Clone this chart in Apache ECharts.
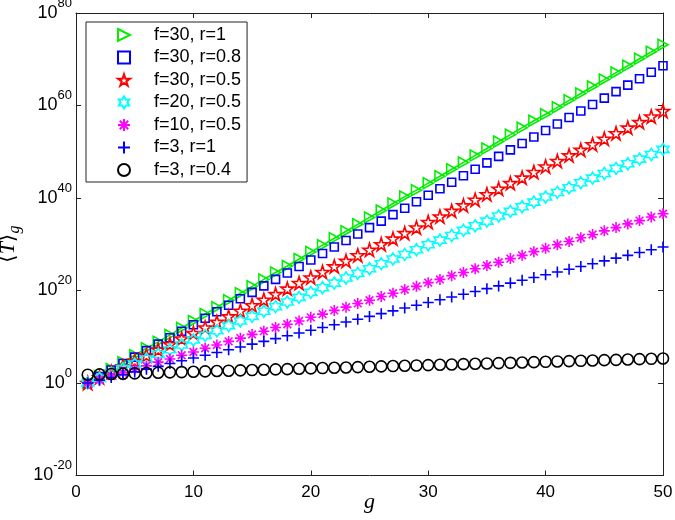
<!DOCTYPE html>
<html><head><meta charset="utf-8">
<script src="https://cdn.jsdelivr.net/npm/echarts@6/dist/echarts.min.js"></script>
<style>html,body{margin:0;padding:0;background:#fff}#c{width:675px;height:520px}</style>
</head><body><div id="c"></div>
<script>
// generation index g
const gens = [1,2,3,4,5,6,7,8,9,10,11,12,13,14,15,16,17,18,19,20,21,22,23,24,25,26,27,28,29,30,31,32,33,34,35,36,37,38,39,40,41,42,43,44,45,46,47,48,49,50];

// <T>_g values (log scale)
const f30r1 = [1e0,3.2e1,1e3,3.2e4,1e6,3.2e7,7.9e8,2.5e10,7.9e11,2.5e13,7.9e14,2.5e16,7.9e17,2.5e19,7.9e20,2.5e22,7.9e23,2e25,6.3e26,2e28,6.3e29,2e31,6.3e32,2e34,6.3e35,2e37,6.3e38,2e40,5e41,1.6e43,5e44,1.6e46,5e47,1.6e49,5e50,1.6e52,5e53,1.6e55,5e56,1.3e58,4e59,1.3e61,4e62,1.3e64,4e65,1.3e67,4e68,1.3e70,4e71,1.3e73];
const f30r08 = [1e0,2.5e1,6.3e2,1.6e4,4e5,1e7,2.5e8,6.3e9,1.6e11,4e12,1e14,2.5e15,6.3e16,1.6e18,4e19,1e21,2.5e22,6.3e23,1.6e25,4e26,1e28,2.5e29,6.3e30,1.6e32,4e33,1e35,2.5e36,6.3e37,1.6e39,4e40,1e42,2.5e43,6.3e44,1.6e46,4e47,1e49,2.5e50,6.3e51,1.6e53,4e54,1e56,2.5e57,6.3e58,1.6e60,4e61,1e63,2.5e64,6.3e65,1.6e67,4e68];
const f30r05 = [1e0,1.6e1,2.5e2,4e3,6.3e4,1e6,1.6e7,2.5e8,4e9,6.3e10,1e12,1.6e13,2.5e14,4e15,6.3e16,1e18,1.6e19,2.5e20,4e21,6.3e22,1e24,1.6e25,2.5e26,4e27,6.3e28,1e30,1.6e31,2.5e32,4e33,6.3e34,1e36,1.6e37,2.5e38,4e39,6.3e40,1e42,1.6e43,2.5e44,4e45,6.3e46,1e48,1.6e49,2.5e50,4e51,6.3e52,1e54,1.6e55,2.5e56,4e57,6.3e58];
const f20r05 = [1e0,1e1,1.3e2,1.3e3,1.3e4,1.6e5,1.6e6,1.6e7,1.6e8,2e9,2e10,2e11,2.5e12,2.5e13,2.5e14,3.2e15,3.2e16,3.2e17,3.2e18,4e19,4e20,4e21,5e22,5e23,5e24,6.3e25,6.3e26,6.3e27,6.3e28,7.9e29,7.9e30,7.9e31,1e33,1e34,1e35,1.3e36,1.3e37,1.3e38,1.3e39,1.6e40,1.6e41,1.6e42,2e43,2e44,2e45,2.5e46,2.5e47,2.5e48,2.5e49,3.2e50];
const f10r05 = [1e0,5e0,3.2e1,1.6e2,1e3,5e3,3.2e4,1.6e5,1e6,5e6,3.2e7,1.6e8,1e9,5e9,3.2e10,1.6e11,1e12,5e12,2.5e13,1.6e14,7.9e14,5e15,2.5e16,1.6e17,7.9e17,5e18,2.5e19,1.6e20,7.9e20,5e21,2.5e22,1.6e23,7.9e23,5e24,2.5e25,1.3e26,7.9e26,4e27,2.5e28,1.3e29,7.9e29,4e30,2.5e31,1.3e32,7.9e32,4e33,2.5e34,1.3e35,7.9e35,4e36];
const f3r1 = [1e0,4e0,1.6e1,6.3e1,2.5e2,1e3,4e3,1.6e4,6.3e4,2.5e5,1e6,4e6,1.6e7,6.3e7,2.5e8,1e9,4e9,1.6e10,6.3e10,2.5e11,1e12,4e12,1.6e13,6.3e13,2.5e14,1e15,4e15,1.6e16,6.3e16,2.5e17,1e18,4e18,1.6e19,6.3e19,2.5e20,1e21,4e21,1.6e22,6.3e22,2.5e23,1e24,4e24,1.6e25,6.3e25,2.5e26,1e27,4e27,1.6e28,6.3e28,2.5e29];
const f3r04 = [63,74,87,1.0e2,1.23e2,1.45e2,1.7e2,2.0e2,2.3e2,2.75e2,3.2e2,3.9e2,4.6e2,5.4e2,6.3e2,7.4e2,8.7e2,1.0e3,1.2e3,1.45e3,1.7e3,2.0e3,2.3e3,2.75e3,3.2e3,3.9e3,4.6e3,5.4e3,6.3e3,7.4e3,8.7e3,1.0e4,1.2e4,1.45e4,1.7e4,2.0e4,2.3e4,2.75e4,3.2e4,3.8e4,4.6e4,5.4e4,6.3e4,7.4e4,8.7e4,1.0e5,1.2e5,1.45e5,1.7e5,2.0e5];

const seriesNames = ['f=30, r=1','f=30, r=0.8','f=30, r=0.5','f=20, r=0.5','f=10, r=0.5','f=3, r=1','f=3, r=0.4'];
const xTicks = [0,10,20,30,40,50];
const yTickExps = [-20,0,20,40,60,80];

const TRI_RIGHT = 'path://M-50,-50L50,0L-50,50Z';
const PENTAGRAM = 'path://M0,-50L11.23,-15.45L47.55,-15.45L18.17,5.9L29.39,40.45L0,19.1L-29.39,40.45L-18.17,5.9L-47.55,-15.45L-11.23,-15.45Z';
const HEXAGRAM = 'path://M0,-50L14.43,-25L43.3,-25L28.87,0L43.3,25L14.43,25L0,50L-14.43,25L-43.3,25L-28.87,0L-43.3,-25L-14.43,-25Z';
const ASTER = 'path://M0,-50L0,50M-50,0L50,0M-35,-35L35,35M-35,35L35,-35';
const PLUS = 'path://M0,-50L0,50M-50,0L50,0';

const pairs = arr => gens.map((g, i) => [g, arr[i]]);
const clear = 'rgba(0,0,0,0)';
function sc(name, data, symbol, size, color, z) {
  return {
    type: 'scatter', name, data: pairs(data), symbol, symbolSize: size, z: z,
    itemStyle: { color: clear, borderColor: color, borderWidth: 1.6, opacity: 1 },
    emphasis: { disabled: true }, silent: true
  };
}

const FONT = '"Liberation Sans", Arial, Helvetica, sans-serif';
const SERIF = '"Liberation Serif", "DejaVu Serif", "Times New Roman", serif';
const INK = '#222';

const chart = echarts.init(document.getElementById('c'), null, { renderer: 'canvas' });
const axisCommon = {
  axisLine: { show: true, onZero: false, lineStyle: { color: INK, width: 1 } },
  axisTick: { show: true, inside: true, length: 5, lineStyle: { color: INK } },
  splitLine: { show: false },
  minorTick: { show: false }
};
chart.setOption({
  animation: false,
  backgroundColor: '#fff',
  grid: { left: 76, right: 12, top: 13, bottom: 44.5, containLabel: false, outerBoundsMode: 'none' },
  legend: {
    data: seriesNames,
    orient: 'vertical', left: 86, top: 22,
    itemWidth: 12, itemHeight: 12, itemGap: 4.5,
    padding: [4, 6, 3, 31],
    borderColor: INK, borderWidth: 1, backgroundColor: '#fff',
    selectedMode: false,
    formatter: name => '{gap|}{n|' + name + '}',
    textStyle: {
      fontSize: 18, color: '#000', fontFamily: FONT,
      rich: {
        gap: { width: 19, fontSize: 18 },
        n: { fontSize: 18, color: '#000', fontFamily: FONT }
      }
    }
  },
  xAxis: [
    Object.assign({
      type: 'value', min: xTicks[0], max: xTicks[xTicks.length - 1], interval: 10, position: 'bottom',
      name: 'g', nameLocation: 'middle', nameGap: 16, nameMoveOverlap: false,
      nameTextStyle: { fontSize: 22, fontStyle: 'italic', fontFamily: SERIF, color: '#000' },
      axisLabel: { fontSize: 17, color: '#000', fontFamily: FONT, margin: 8 }
    }, axisCommon),
    Object.assign({
      type: 'value', min: 0, max: 50, interval: 10, position: 'top',
      axisLabel: { show: false }
    }, axisCommon)
  ],
  yAxis: [
    Object.assign({
      type: 'log', logBase: 10, min: Math.pow(10, yTickExps[0]), max: Math.pow(10, yTickExps[yTickExps.length - 1]),
      interval: 20, position: 'left',
      name: '{a|\u27E8}{t|T}{a|\u27E9}{g|g}', nameLocation: 'middle', nameRotate: 90, nameGap: 53, nameMoveOverlap: false,
      nameTextStyle: {
        rich: {
          a: { fontSize: 22, fontFamily: '"DejaVu Serif", serif', color: '#000', lineHeight: 30 },
          t: { fontSize: 22, fontFamily: SERIF, fontStyle: 'italic', color: '#000', lineHeight: 30 },
          g: { fontSize: 16, fontFamily: SERIF, fontStyle: 'italic', color: '#000', verticalAlign: 'bottom' }
        }
      },
      axisLabel: {
        margin: 4, color: '#000', fontSize: 18,
        formatter: v => '{b|10}{s|' + Math.round(Math.log10(v)) + '}',
        rich: {
          b: { fontSize: 18, fontFamily: FONT, color: '#000', lineHeight: 33 },
          s: { fontSize: 13, fontFamily: FONT, color: '#000', verticalAlign: 'top' }
        }
      }
    }, axisCommon),
    Object.assign({
      type: 'log', logBase: 10, min: 1e-20, max: 1e80, interval: 20, position: 'right',
      axisLabel: { show: false }
    }, axisCommon)
  ],
  series: [
    { type: 'line', name: 'theory f=30, r=1', data: pairs(f30r1), showSymbol: false, symbol: 'none',
      lineStyle: { color: '#00ee00', width: 1.6 }, silent: true, z: 2 },
    sc(seriesNames[0], f30r1, TRI_RIGHT, [10, 11], '#00ee00', 3),
    sc(seriesNames[1], f30r08, 'rect', 8, '#0000ff', 3),
    sc(seriesNames[2], f30r05, PENTAGRAM, 13, '#ff0000', 3),
    sc(seriesNames[3], f20r05, HEXAGRAM, 12, '#00ffff', 3),
    sc(seriesNames[4], f10r05, ASTER, 11, '#ff00ff', 3),
    sc(seriesNames[5], f3r1, PLUS, 11, '#0000ff', 3),
    sc(seriesNames[6], f3r04, 'circle', 11, '#000000', 3)
  ]
});
</script>
</body></html>
